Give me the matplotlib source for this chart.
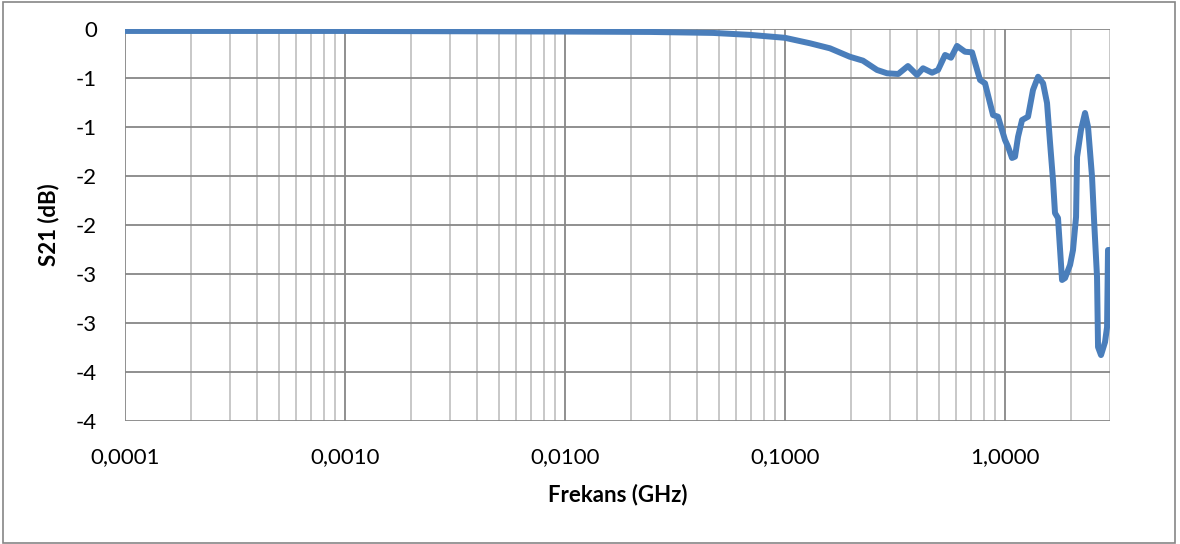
import numpy as np
import matplotlib.pyplot as plt
from matplotlib.ticker import FuncFormatter, LogLocator, MultipleLocator
from matplotlib.patches import Rectangle

# values (GHz, dB)
freq_ghz = [0.0001, 0.001, 0.01, 0.0243, 0.0471, 0.0693, 0.1, 0.130, 0.160,
            0.197, 0.226, 0.262, 0.291, 0.327, 0.362, 0.398, 0.424, 0.466,
            0.496, 0.534, 0.568, 0.605, 0.658, 0.708, 0.770, 0.811, 0.882,
            0.929, 1.0, 1.032, 1.076, 1.110, 1.146, 1.195, 1.272, 1.340,
            1.413, 1.489, 1.552, 1.602, 1.652, 1.687, 1.741, 1.816, 1.874,
            1.975, 2.037, 2.103, 2.125, 2.214, 2.310, 2.384, 2.486, 2.539,
            2.619, 2.647, 2.731, 2.848, 2.909, 2.938, 3.0]
s21_db = [-0.02, -0.02, -0.026, -0.03, -0.04, -0.06, -0.09, -0.146, -0.197,
          -0.283, -0.323, -0.418, -0.452, -0.459, -0.378, -0.469, -0.401, -0.446,
          -0.418, -0.265, -0.293, -0.173, -0.232, -0.238, -0.520, -0.554, -0.878,
          -0.895, -1.133, -1.201, -1.316, -1.303, -1.099, -0.929, -0.895, -0.622,
          -0.487, -0.554, -0.755, -1.163, -1.541, -1.878, -1.929, -2.561, -2.541,
          -2.408, -2.255, -1.918, -1.306, -1.031, -0.857, -1.0, -1.510, -1.949,
          -2.531, -3.245, -3.327, -3.194, -3.041, -2.255, -2.255]

plt.rcParams['font.family'] = ['Lato', 'DejaVu Sans']

fig = plt.figure(figsize=(11.8, 5.44), dpi=100)
ax = fig.add_axes([125/1180, 1 - 421/544, (1110 - 125)/1180, (421 - 29)/544])

# outer chart border
fig.patches.append(Rectangle((3/1180, 1/544), 1172/1180, 541/544, transform=fig.transFigure,
                             fill=False, edgecolor='#868686', linewidth=1.2))

ax.plot(freq_ghz, s21_db, color='#4a7ebb', linewidth=4.3, solid_joinstyle='round',
        solid_capstyle='round', zorder=3)

ax.set_xscale('log')
ax.set_xlim(0.0001, 3.0)
ax.set_ylim(-4, 0)

ax.xaxis.set_major_locator(LogLocator(base=10))
ax.xaxis.set_minor_locator(LogLocator(base=10, subs=np.arange(2, 10)))
ax.xaxis.set_minor_formatter(FuncFormatter(lambda v, p: ''))
ax.xaxis.set_major_formatter(FuncFormatter(lambda v, p: f'{v:.4f}'.replace('.', ',')))
ax.yaxis.set_major_locator(MultipleLocator(0.5))


def excel_round(v, p):
    r = int(np.sign(v) * np.floor(abs(v) + 0.5))
    return f'{r}'


ax.yaxis.set_major_formatter(FuncFormatter(excel_round))

ax.grid(which='major', axis='both', color='#878787', linewidth=1.3)
ax.grid(which='minor', axis='x', color='#c4c4c4', linewidth=1.3)
ax.set_axisbelow(True)
for s in ax.spines.values():
    s.set_visible(False)
ax.tick_params(which='both', length=0, labelsize=16, colors='black')
ax.tick_params(axis='x', pad=19)
ax.tick_params(axis='y', pad=20)

ax.set_xlabel('Frekans (GHz)', fontsize=16, fontweight='bold', labelpad=12)
ax.set_ylabel('S21 (dB)', fontsize=16, fontweight='bold', labelpad=12)

fig.savefig('out.png', dpi=100)
